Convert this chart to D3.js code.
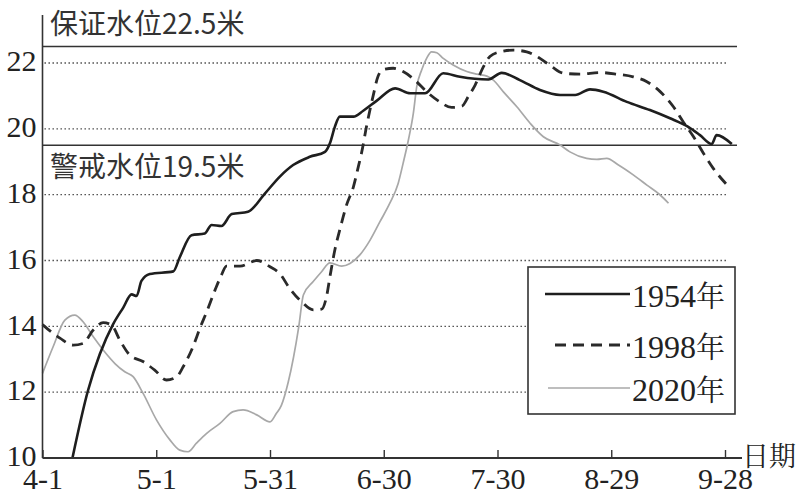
<!DOCTYPE html>
<html>
<head>
<meta charset="utf-8">
<script src="https://cdn.jsdelivr.net/npm/d3@7"></script>
<style>
  html, body { margin: 0; padding: 0; background: #fff; }
  svg { display: block; }
</style>
</head>
<body>
<script>
// ---------- data ----------
const dateLabels = ["4-1", "5-1", "5-31", "6-30", "7-30", "8-29", "9-28"];
const dateDays   = [0, 30, 60, 90, 120, 150, 180];   // days after 4-1
const yTickValues = [10, 12, 14, 16, 18, 20, 22];
const gridValues  = [12, 14, 16, 18, 20, 22];

const guaranteeLevel = 22.5;
const warningLevel   = 19.5;
const guaranteeText  = "保证水位22.5米";
const warningText    = "警戒水位19.5米";
const xAxisTitle     = "日期";

const seriesYears = ["1954", "1998", "2020"];
const yearSuffix  = "年";

const days1954  = [7.9, 12.0, 15.1, 18.6, 21.3, 23.5, 24.8, 26.1, 28.3, 34.5, 36.2, 39.3, 42.8, 44.6, 47.2, 49.9, 54.2, 58.7, 62.6, 66.1, 70.5, 74.5, 75.8, 77.1, 78.4, 82.0, 84.6, 88.1, 93.0, 97.0, 100.9, 105.7, 110.1, 117.6, 121.1, 125.9, 131.2, 136.5, 140.5, 144.4, 147.9, 154.1, 160.2, 165.5, 170.3, 173.4, 176.5, 177.8, 181.8];
const level1954 = [10.0, 12.05, 13.15, 14.06, 14.57, 14.97, 14.92, 15.38, 15.59, 15.67, 16.1, 16.77, 16.82, 17.08, 17.05, 17.41, 17.48, 18.04, 18.55, 18.9, 19.15, 19.3, 19.56, 20.06, 20.37, 20.37, 20.55, 20.85, 21.23, 21.08, 21.08, 21.69, 21.58, 21.5, 21.7, 21.48, 21.18, 21.03, 21.03, 21.2, 21.13, 20.82, 20.57, 20.32, 20.06, 19.81, 19.54, 19.81, 19.54];

const days1998  = [0, 4.6, 8.1, 10.7, 13.4, 16.0, 18.2, 20.4, 23.0, 26.5, 29.6, 32.7, 35.4, 37.1, 39.7, 41.5, 43.3, 45.5, 47.2, 48.5, 52.1, 56.5, 60.0, 62.6, 65.2, 68.3, 71.4, 73.6, 74.9, 75.8, 77.1, 78.4, 80.2, 82.0, 83.3, 84.2, 85.5, 87.2, 88.5, 89.9, 92.5, 95.1, 98.2, 101.3, 104.8, 107.9, 110.6, 112.3, 114.1, 116.3, 118.0, 120.7, 124.2, 127.7, 131.2, 134.3, 137.4, 141.8, 147.0, 151.5, 155.8, 159.4, 162.9, 166.4, 169.0, 171.7, 174.3, 176.9, 180.5];
const level1998 = [14.05, 13.64, 13.43, 13.48, 13.89, 14.11, 14.04, 13.58, 13.13, 12.93, 12.67, 12.37, 12.47, 12.77, 13.38, 13.94, 14.44, 15.1, 15.56, 15.83, 15.83, 16.0, 15.81, 15.6, 15.15, 14.75, 14.5, 14.52, 14.9, 15.5, 16.32, 16.93, 17.69, 18.24, 18.85, 19.3, 20.1, 21.0, 21.6, 21.8, 21.84, 21.74, 21.48, 21.13, 20.82, 20.65, 20.69, 20.98, 21.33, 21.89, 22.2, 22.34, 22.39, 22.34, 22.14, 21.89, 21.69, 21.66, 21.71, 21.66, 21.58, 21.43, 21.13, 20.67, 20.21, 19.76, 19.26, 18.8, 18.3];

const days2020  = [0, 2.8, 5.9, 8.5, 10.7, 13.4, 16.0, 19.1, 21.7, 23.9, 26.5, 30.1, 33.6, 36.2, 38.4, 40.6, 43.3, 46.8, 50.3, 52.9, 56.5, 60.0, 61.7, 63.0, 64.8, 67.6, 68.8, 71.4, 73.6, 75.8, 78.9, 81.1, 83.7, 86.4, 89.0, 91.6, 93.8, 95.1, 96.5, 97.8, 98.7, 100.0, 101.3, 102.6, 104.0, 105.7, 108.3, 111.9, 114.5, 117.2, 118.9, 121.5, 125.1, 128.6, 132.1, 136.5, 139.1, 143.5, 146.2, 148.8, 151.9, 155.8, 159.4, 162.9, 165.1];
const level2020 = [12.57, 13.38, 14.19, 14.34, 14.14, 13.68, 13.28, 12.87, 12.62, 12.47, 11.97, 11.15, 10.55, 10.24, 10.19, 10.45, 10.75, 11.05, 11.41, 11.46, 11.31, 11.1, 11.36, 11.6, 12.3, 14.0, 14.95, 15.36, 15.66, 15.93, 15.83, 15.91, 16.17, 16.62, 17.18, 17.74, 18.34, 18.95, 19.66, 20.47, 21.28, 21.79, 22.14, 22.34, 22.31, 22.14, 21.94, 21.74, 21.66, 21.6, 21.48, 21.13, 20.67, 20.17, 19.76, 19.51, 19.3, 19.1, 19.07, 19.1, 18.9, 18.6, 18.29, 17.99, 17.74];

// ---------- layout ----------
const W = 798, H = 496;
const ink = "#222";
const SERIF = '"Liberation Serif"';
const SANS_CJK = '"Noto Sans CJK SC"';
const SERIF_CJK = '"Noto Serif CJK SC"';

const svg = d3.select("body").append("svg")
  .attr("width", W).attr("height", H)
  .attr("viewBox", `0 0 ${W} ${H}`);

const x = d3.scaleLinear().domain([0, 180]).range([42.5, 725]);
const y = d3.scaleLinear().domain([10, 22]).range([458, 63]);

const x0 = x(0);
const xAxisEnd = 742;
const gridEnd = 728;
const refEnd = 737;

// dotted gridlines
svg.append("g").selectAll("line").data(gridValues).join("line")
  .attr("x1", x0 + 2).attr("x2", gridEnd)
  .attr("y1", d => y(d)).attr("y2", d => y(d))
  .attr("stroke", "#444").attr("stroke-width", 1.3)
  .attr("stroke-dasharray", "1.4,2.6");

// reference solid lines
svg.append("g").selectAll("line").data([guaranteeLevel, warningLevel]).join("line")
  .attr("x1", x0).attr("x2", refEnd)
  .attr("y1", d => y(d)).attr("y2", d => y(d))
  .attr("stroke", "#333").attr("stroke-width", 1.6);

svg.append("text").text(guaranteeText)
  .style("font-family", SANS_CJK).style("font-size", "28px")
  .attr("x", 50).attr("y", y(guaranteeLevel) - 13)
  .attr("fill", "#333");
svg.append("text").text(warningText)
  .style("font-family", SANS_CJK).style("font-size", "28px")
  .attr("x", 50).attr("y", y(warningLevel) + 32)
  .attr("fill", "#333");

// series
const line = d3.line().x(d => x(d[0])).y(d => y(d[1])).curve(d3.curveMonotoneX);
const zip = (a, b) => a.map((d, i) => [d, b[i]]);

const styles = [
  { data: zip(days2020, level2020), stroke: "#a8a8a8", width: 1.7, dash: null },
  { data: zip(days1998, level1998), stroke: "#2a2a2a", width: 2.8, dash: "11,7" },
  { data: zip(days1954, level1954), stroke: "#1e1e1e", width: 2.6, dash: null }
];
styles.forEach(s => {
  svg.append("path").datum(s.data)
    .attr("d", line)
    .attr("fill", "none")
    .attr("stroke", s.stroke)
    .attr("stroke-width", s.width)
    .attr("stroke-linejoin", "round")
    .attr("stroke-dasharray", s.dash);
});

// axes
const yAxis = svg.append("g").attr("transform", `translate(${x0},0)`)
  .call(d3.axisLeft(y).tickValues(yTickValues).tickSize(0).tickPadding(6).tickFormat(d3.format("d")));
yAxis.select(".domain").remove();
yAxis.selectAll("text")
  .style("font-family", SERIF).style("font-size", "30px")
  .attr("fill", ink).attr("dy", "0.26em");

svg.append("line").attr("x1", x0).attr("x2", x0).attr("y1", 15).attr("y2", y(10))
  .attr("stroke", "#333").attr("stroke-width", 1.6);

const xAxis = svg.append("g").attr("transform", `translate(0,${y(10)})`)
  .call(d3.axisBottom(x).tickValues(dateDays).tickSizeInner(-8).tickSizeOuter(0).tickPadding(10)
    .tickFormat((d, i) => dateLabels[i]));
xAxis.select(".domain").remove();
xAxis.selectAll(".tick line").attr("stroke", "#333").attr("stroke-width", 1.4);
xAxis.selectAll("text")
  .style("font-family", SERIF).style("font-size", "30px")
  .attr("fill", ink);

svg.append("line").attr("x1", x0).attr("x2", xAxisEnd).attr("y1", y(10)).attr("y2", y(10))
  .attr("stroke", "#333").attr("stroke-width", 1.8);

svg.append("text").text(xAxisTitle)
  .style("font-family", SERIF_CJK).style("font-size", "27px")
  .attr("x", 742).attr("y", 466)
  .attr("fill", ink);

// legend
const legend = svg.append("g");
legend.append("rect").attr("x", 528).attr("y", 267).attr("width", 207).attr("height", 147)
  .attr("fill", "#fff").attr("stroke", "#333").attr("stroke-width", 1.6);
const legendRows = [294, 345, 388];
const legendStarts = [545, 555, 548];
const legendOrder = [2, 1, 0]; // indices into styles for 1954, 1998, 2020
seriesYears.forEach((yr, i) => {
  const s = styles[legendOrder[i]];
  legend.append("line")
    .attr("x1", legendStarts[i]).attr("x2", 630)
    .attr("y1", legendRows[i]).attr("y2", legendRows[i])
    .attr("stroke", s.stroke).attr("stroke-width", s.width)
    .attr("stroke-dasharray", s.dash);
  const t = legend.append("text")
    .attr("x", 632).attr("y", legendRows[i] + 13)
    .attr("fill", ink);
  t.append("tspan").style("font-family", SERIF).style("font-size", "32px").text(yr);
  t.append("tspan").style("font-family", SERIF_CJK).style("font-size", "29px").text(yearSuffix);
});
</script>
</body>
</html>
